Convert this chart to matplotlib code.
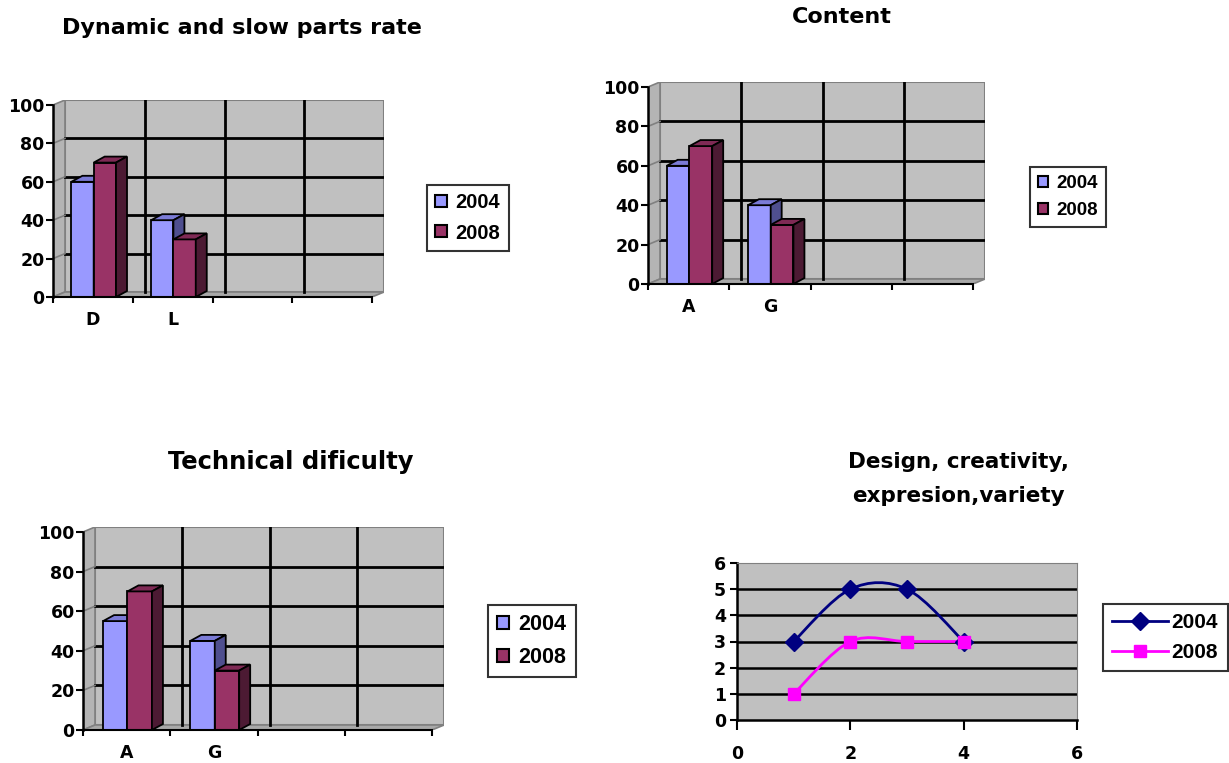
import numpy as np
import matplotlib
matplotlib.use('Agg')
import matplotlib.pyplot as plt
from matplotlib.patches import Rectangle, Polygon, Patch, PathPatch
from matplotlib.path import Path
from matplotlib.lines import Line2D

W, H = 1229, 763
DPI = 100

plt.rcParams['font.family'] = ['DejaVu Sans']
plt.rcParams['font.weight'] = 'bold'

# data for the three column panels
years = ['2004', '2008']
dyn_cats = ['D', 'L']
dyn_2004 = [60, 40]
dyn_2008 = [70, 30]

content_cats = ['A', 'G']
content_2004 = [60, 40]
content_2008 = [70, 30]

tech_cats = ['A', 'G']
tech_2004 = [55, 45]
tech_2008 = [70, 30]

# data for the line panel
design_x = [1, 2, 3, 4]
design_2004 = [3, 5, 5, 3]
design_2008 = [1, 3, 3, 3]

BLUE = ('#9999FF', '#7B7BD6', '#4F4F8F')
PLUM = ('#993366', '#7F2A55', '#4C1A33')
WALL = '#C0C0C0'
EDGE = '#808080'
FS = 12.5
LEGFONT = ['Liberation Sans', 'DejaVu Sans']


def px_axes(fig, x0, x1, ytop, ybot):
    return fig.add_axes([x0 / W, 1 - ybot / H, (x1 - x0) / W, (ybot - ytop) / H])


def draw_bar(ax, x0, w, h, cols, bdx, bdy):
    front, top, side = cols
    kw = dict(ec='black', lw=1.3, zorder=5, joinstyle='miter')
    ax.add_patch(Rectangle((x0, 0), w, h, fc=front, **kw))
    ax.add_patch(Polygon([(x0, h), (x0 + w, h), (x0 + w + bdx, h + bdy),
                          (x0 + bdx, h + bdy)], fc=top, **kw))
    ax.add_patch(Polygon([(x0 + w, 0), (x0 + w + bdx, bdy),
                          (x0 + w + bdx, h + bdy), (x0 + w, h)], fc=side, **kw))


def column_panel(fig, fx0, fx1, ytop, ybot, cats, s04, s08, legend_at,
                 legsize=14.5, dxp=12, dyp=5):
    ax = px_axes(fig, fx0, fx1 + dxp, ytop - dyp, ybot)
    ux = (fx1 - fx0) / 4.0
    uy = (ybot - ytop) / 100.0
    dx, dy = dxp / ux, dyp / uy
    bdx, bdy = 11 / ux, 6 / uy
    ax.set_xlim(0, 4 + dx)
    ax.set_ylim(0, 100 + dy)
    ax.set_facecolor('none')

    # walls and floor
    ax.add_patch(Rectangle((dx, dy), 4, 100, fc=WALL, ec=EDGE, lw=1.5, zorder=1))
    ax.add_patch(Polygon([(0, 0), (dx, dy), (dx, 100 + dy), (0, 100)],
                         fc='#B4B4B4', ec=EDGE, lw=1.2, zorder=1))
    ax.add_patch(Polygon([(0, 0), (4, 0), (4 + dx, dy), (dx, dy)],
                         fc='#A8A8A8', ec=EDGE, lw=1.2, zorder=1))

    # gridlines on the back wall
    for v in range(20, 100, 20):
        ax.plot([dx, 4 + dx], [v + dy, v + dy], color='black', lw=2, zorder=2)
        ax.plot([0, dx], [v, v + dy], color=EDGE, lw=1.2, zorder=2)
    for c in range(1, 4):
        ax.plot([c + dx, c + dx], [dy, 100 + dy], color='black', lw=2, zorder=2)

    for i in range(len(cats)):
        draw_bar(ax, i + 0.23, 0.28, s04[i], BLUE, bdx, bdy)
        draw_bar(ax, i + 0.51, 0.28, s08[i], PLUM, bdx, bdy)

    for side in ('top', 'right'):
        ax.spines[side].set_visible(False)
    ax.spines['left'].set_bounds(0, 100)
    ax.spines['bottom'].set_bounds(0, 4)
    ax.spines['left'].set_linewidth(1.8)
    ax.spines['bottom'].set_linewidth(1.5)
    ax.spines['left'].set_zorder(6)
    ax.spines['bottom'].set_zorder(6)

    ax.set_yticks(range(0, 101, 20))
    ax.tick_params(axis='y', length=5, width=1.5, pad=1, labelsize=FS)
    ax.set_xticks([i + 0.5 for i in range(len(cats))], cats)
    ax.set_xticks(range(0, 5), minor=True)
    ax.tick_params(axis='x', which='major', length=0, pad=10, labelsize=FS)
    ax.tick_params(axis='x', which='minor', length=4, width=1.5)

    handles = [Patch(fc=BLUE[0], ec='black', lw=1.5),
               Patch(fc=PLUM[0], ec='black', lw=1.5)]
    leg = ax.legend(handles, years, loc='upper left',
                    bbox_to_anchor=(legend_at[0] / W, 1 - legend_at[1] / H),
                    bbox_transform=fig.transFigure, fancybox=False,
                    handlelength=0.55, handleheight=0.55, handletextpad=0.45,
                    borderpad=0.42, labelspacing=0.55, borderaxespad=0,
                    prop=dict(family=LEGFONT, size=legsize, weight='bold'))
    leg.get_frame().set_edgecolor('black')
    leg.get_frame().set_linewidth(1.5)
    return ax


def smooth_path(xs, ys):
    # Bezier control points taken from neighbouring points (Excel-style smoothing)
    pts = np.column_stack([xs, ys]).astype(float)
    n = len(pts)
    verts = [pts[0]]
    codes = [Path.MOVETO]
    for i in range(n - 1):
        p0 = pts[max(i - 1, 0)]
        p1 = pts[i]
        p2 = pts[i + 1]
        p3 = pts[min(i + 2, n - 1)]
        verts += [p1 + (p2 - p0) / 6.0, p2 - (p3 - p1) / 6.0, p2]
        codes += [Path.CURVE4] * 3
    return Path(verts, codes)


fig = plt.figure(figsize=(W / DPI, H / DPI), dpi=DPI)

column_panel(fig, 53, 372, 105, 297, dyn_cats, dyn_2004, dyn_2008, (427, 185))
fig.text(242 / W, 1 - 28 / H, 'Dynamic and slow parts rate', ha='center',
         va='center', fontsize=16, fontweight='bold')

column_panel(fig, 648, 973, 87, 284, content_cats, content_2004, content_2008,
             (1030, 167), legsize=13.5)
fig.text(842 / W, 1 - 17 / H, 'Content', ha='center', va='center',
         fontsize=16, fontweight='bold')

column_panel(fig, 83, 432, 532, 730, tech_cats, tech_2004, tech_2008, (488, 605),
             legsize=15.5)
fig.text(291 / W, 1 - 462 / H, 'Technical dificulty', ha='center',
         va='center', fontsize=17.5, fontweight='bold')

# line panel
ax = px_axes(fig, 737, 1077, 563, 720)
ax.set_facecolor(WALL)
ax.set_xlim(0, 6)
ax.set_ylim(0, 6)
for v in range(1, 6):
    ax.axhline(v, color='black', lw=1.8, zorder=1)
ax.add_patch(PathPatch(smooth_path(design_x, design_2004), fill=False,
                       ec='#000080', lw=2, zorder=3))
ax.add_patch(PathPatch(smooth_path(design_x, design_2008), fill=False,
                       ec='#FF00FF', lw=2, zorder=3))
ax.plot(design_x, design_2004, ls='none', marker='D', ms=9, color='#000080',
        zorder=4)
ax.plot(design_x, design_2008, ls='none', marker='s', ms=9, color='#FF00FF',
        zorder=4)
ax.spines['top'].set_color(EDGE)
ax.spines['right'].set_color(EDGE)
ax.spines['left'].set_linewidth(1.8)
ax.spines['bottom'].set_linewidth(1.8)
ax.set_yticks(range(0, 7))
ax.set_xticks(range(0, 7, 2))
ax.tick_params(axis='y', length=5, width=1.5, pad=3, labelsize=FS)
ax.tick_params(axis='x', length=7, width=1.5, pad=11, labelsize=FS)
leg = ax.legend([Line2D([], [], color='#000080', lw=2, marker='D', ms=9),
                 Line2D([], [], color='#FF00FF', lw=2, marker='s', ms=9)],
                years, loc='upper left',
                bbox_to_anchor=(1103 / W, 1 - 604 / H),
                bbox_transform=fig.transFigure, fancybox=False,
                handlelength=2.65, handletextpad=0.2, borderpad=0.45,
                labelspacing=0.5, borderaxespad=0,
                prop=dict(family=LEGFONT, size=15, weight='bold'))
leg.get_frame().set_edgecolor('black')
leg.get_frame().set_linewidth(1.5)
fig.text(958 / W, 1 - 479 / H, 'Design, creativity,\nexpresion,variety',
         ha='center', va='center', fontsize=15.5, fontweight='bold',
         linespacing=1.85)

fig.savefig('out.png', dpi=DPI)
